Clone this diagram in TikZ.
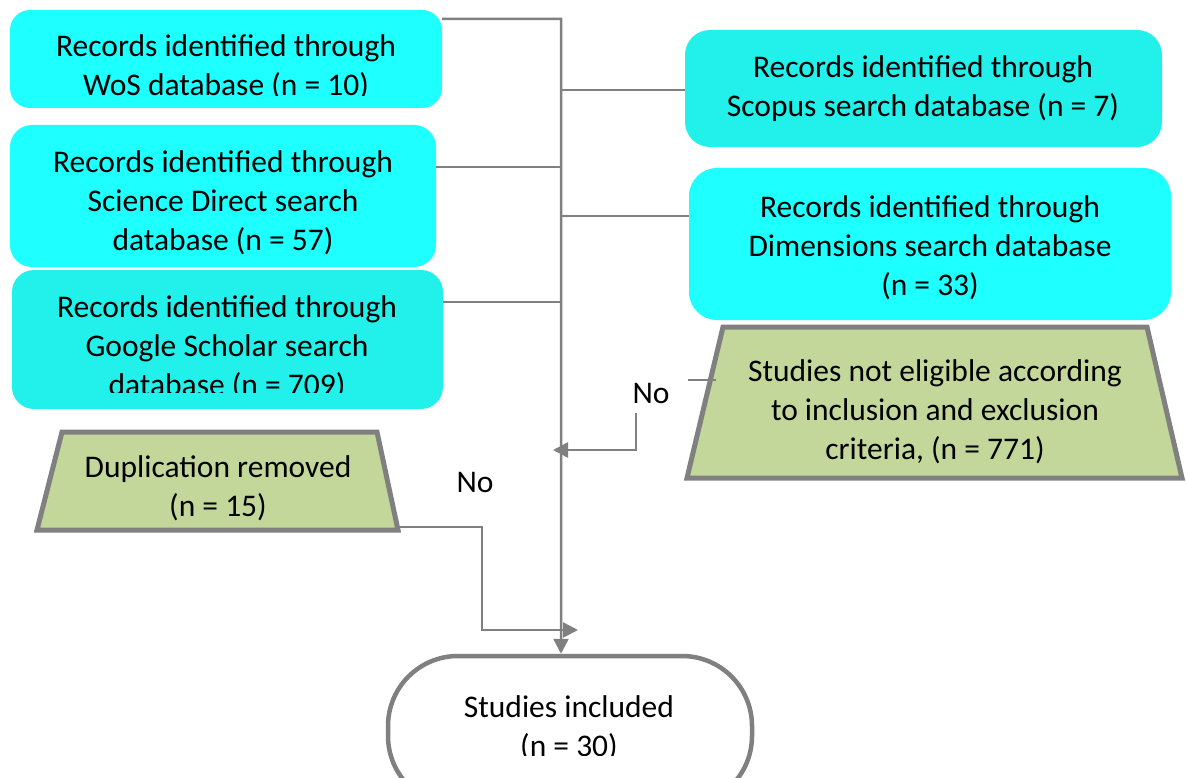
\documentclass[tikz,border=0pt]{standalone}
\usepackage{fontspec}
\setmainfont{Carlito}
\usetikzlibrary{arrows.meta}
\definecolor{cyanA}{RGB}{30,255,255}
\definecolor{cyanB}{RGB}{34,240,234}
\definecolor{oliveG}{RGB}{196,215,155}
\definecolor{lineG}{RGB}{128,128,128}
\tikzset{
  dbbox/.style={draw=none, rounded corners=#1, inner sep=0pt},
  txt/.style={align=center, inner sep=0pt, font=\fontsize{31.5}{39}\selectfont},
  conn/.style={draw=lineG, line width=2.5pt},
  arr/.style={conn, -{Triangle[length=15pt,width=15pt]}},
  trap/.style={fill=oliveG, draw=lineG, line width=5pt, line join=miter},
  term/.style={draw=lineG, line width=4.5pt, fill=white, rounded corners=70pt, inner sep=0pt}
}
\begin{document}
\begin{tikzpicture}[x=1pt,y=-1pt]
\useasboundingbox (0,0) rectangle (1186,778);
\clip (0,0) rectangle (1186,778);

% database boxes
\node[dbbox=20pt, fill=cyanA, minimum width=432pt, minimum height=98pt] (wos) at (226,59) {};
\node[dbbox=22pt, fill=cyanA, minimum width=426pt, minimum height=142pt] (sd) at (223,196) {};
\node[dbbox=22pt, fill=cyanB, minimum width=431pt, minimum height=139pt] (gs) at (227.5,339.5) {};
\node[dbbox=25pt, fill=cyanB, minimum width=477pt, minimum height=117pt] (scopus) at (923.5,88.5) {};
\node[dbbox=28pt, fill=cyanA, minimum width=482pt, minimum height=152pt] (dim) at (930,244) {};

\begin{scope}
\clip (0,0) rectangle (1186,96);
\node[txt] (wost) at (226,67.5) {Records identified through\\WoS database (n = 10)};
\end{scope}
\node[txt] (sdt) at (223,202.5) {Records identified through\\Science Direct search\\database (n = 57)};
\begin{scope}
\clip (0,0) rectangle (1186,392);
\node[txt] (gst) at (227,347.5) {Records identified through\\Google Scholar search\\database (n = 709)};
\end{scope}
\node[txt] (scopust) at (923,88.5) {Records identified through\\Scopus search database (n = 7)};
\node[txt] (dimt) at (930,247.5) {Records identified through\\Dimensions search database\\(n = 33)};

% trapezoids
\path[trap] (723,327) -- (1147,327) -- (1182,478) -- (687,478) -- cycle;
\node[txt] (ne) at (935,411.5) {Studies not eligible according\\to inclusion and exclusion\\criteria, (n = 771)};
\coordinate (neout) at (716,380);

\path[trap] (62,432) -- (377,432) -- (398,530) -- (37,530) -- cycle;
\node[txt] (dup) at (218,488.5) {Duplication removed\\(n = 15)};
\coordinate (dupout) at (398,527);

% terminal
\node[term, minimum width=364pt, minimum height=150pt] (inc) at (570,731) {};
\begin{scope}
\clip (0,0) rectangle (1186,755);
\node[txt] (inct) at (569,728.5) {Studies included\\(n = 30)};
\end{scope}

% labels
\node[txt] (no1) at (651,394) {No};
\node[txt] (no2) at (475,482) {No};

% trunk and branches
\coordinate (t0) at (561,19);
\draw[arr] ([yshift=-9pt]wos.north east) -- (t0) -- (t0 |- inc.north);
\draw[conn] (t0 |- 0,90) -- (scopus.west |- 0,90);
\draw[conn] (sd.east |- 0,167) -- (t0 |- 0,167);
\draw[conn] (t0 |- 0,216) -- (dim.west |- 0,216);
\draw[conn] (gs.east |- 0,302) -- (t0 |- 0,302);

% "No" branch from not-eligible
\coordinate (nobend) at (636,413);
\coordinate (notip) at (553,450);
\draw[conn] (neout) -- (688,380);
\draw[arr] (nobend) |- (notip);

% duplication branch
\coordinate (duptip) at (578,630);
\draw[arr] (dupout) -- (482,527) |- (duptip);
\end{tikzpicture}
\end{document}
